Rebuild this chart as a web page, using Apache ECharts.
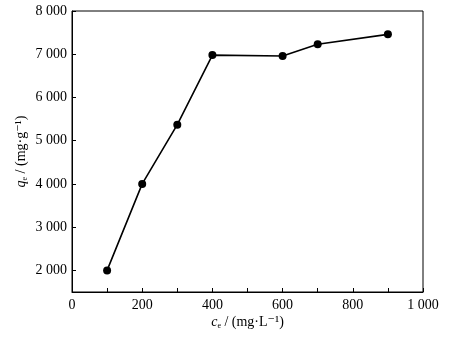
<!DOCTYPE html>
<html>
<head>
<meta charset="utf-8">
<script src="https://cdn.jsdelivr.net/npm/echarts@6/dist/echarts.min.js"></script>
<style>
  html, body { margin: 0; padding: 0; background: #fff; }
  #chart { width: 457px; height: 340px; }
</style>
</head>
<body>
<div id="chart"></div>
<script>
// ce (mg/L) vs qe (mg/g)
const ceValues = [100, 200, 300, 400, 600, 700, 900];
const qeValues = [2000, 4000, 5370, 6980, 6960, 7230, 7460];
const xTicks = [0, 100, 200, 300, 400, 500, 600, 700, 800, 900, 1000];
const xLabels = [0, 200, 400, 600, 800, 1000];
const yTicks = [2000, 3000, 4000, 5000, 6000, 7000, 8000];

const fontFamily = "'Liberation Serif', 'DejaVu Serif', serif";

// 8000 -> "8 000"
function fmt(v) {
  return String(v).replace(/\B(?=(\d{3})+(?!\d))/g, " ");
}

const chart = echarts.init(document.getElementById("chart"));

const data = ceValues.map((c, i) => [c, qeValues[i]]);

const nameRich = {
  it: { fontStyle: "italic", fontSize: 14, fontFamily: fontFamily, color: "#000" },
  sub: { fontSize: 8, fontFamily: fontFamily, color: "#000", padding: [8, 0, 0, 0] },
  n: { fontSize: 14, fontFamily: fontFamily, color: "#000" }
};

const option = {
  backgroundColor: "#fff",
  animation: false,
  grid: {
    left: 72,
    right: 34,
    top: 11,
    bottom: 48,
    show: true,
    borderColor: "#000",
    borderWidth: 1
  },
  xAxis: {
    type: "value",
    min: 0,
    max: 1000,
    name: "{it|c}{sub|e}{n| / (mg·L⁻¹)}",
    nameLocation: "middle",
    nameGap: 22,
    nameMoveOverlap: false,
    nameTextStyle: { color: "#000", fontFamily: fontFamily, rich: nameRich },
    axisLine: { lineStyle: { color: "#000", width: 1 } },
    axisTick: {
      inside: true,
      length: 4,
      customValues: xTicks,
      lineStyle: { color: "#000" }
    },
    axisLabel: {
      customValues: xLabels,
      formatter: fmt,
      color: "#000",
      fontSize: 14,
      fontFamily: fontFamily,
      margin: 6
    },
    splitLine: { show: false }
  },
  yAxis: {
    type: "value",
    min: 1500,
    max: 8000,
    name: "{it|q}{sub|e}{n| / (mg·g⁻¹)}",
    nameLocation: "middle",
    nameGap: 43,
    nameMoveOverlap: false,
    nameTextStyle: { color: "#000", fontFamily: fontFamily, rich: nameRich },
    axisLine: { show: true, lineStyle: { color: "#000", width: 1 } },
    axisTick: {
      show: true,
      inside: true,
      length: 4,
      customValues: yTicks,
      lineStyle: { color: "#000" }
    },
    axisLabel: {
      customValues: yTicks,
      formatter: fmt,
      color: "#000",
      fontSize: 14,
      fontFamily: fontFamily,
      margin: 5
    },
    splitLine: { show: false }
  },
  series: [
    {
      type: "line",
      data: data,
      symbol: "circle",
      symbolSize: 8,
      itemStyle: { color: "#000" },
      lineStyle: { color: "#000", width: 1.6 }
    }
  ]
};

chart.setOption(option);
</script>
</body>
</html>
